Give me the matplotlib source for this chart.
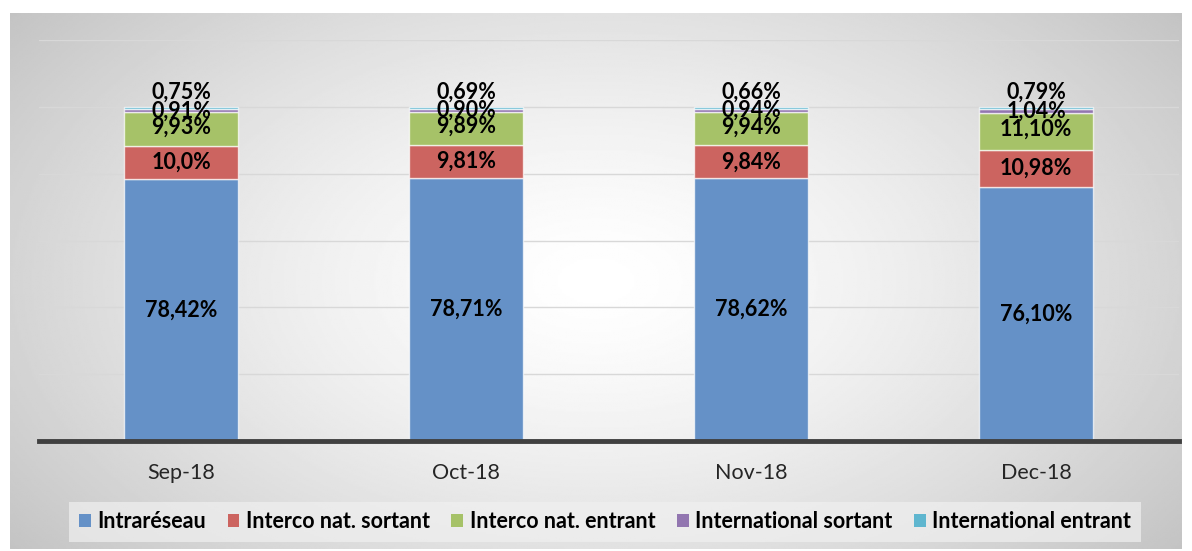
import numpy as np
import matplotlib
matplotlib.use("Agg")
import matplotlib.pyplot as plt
from matplotlib.patches import Patch

plt.rcParams['font.family'] = ['Lato', 'DejaVu Sans']

# data
months = ["Sep-18", "Oct-18", "Nov-18", "Dec-18"]
intra = [78.42, 78.71, 78.62, 76.10]
nat_sortant = [10.0, 9.81, 9.84, 10.98]
nat_entrant = [9.93, 9.89, 9.94, 11.10]
intl_sortant = [0.91, 0.90, 0.94, 1.04]
intl_entrant = [0.75, 0.69, 0.66, 0.79]
nat_sortant_dec = [1, 2, 2, 2]

series = [
    ("Intraréseau", intra, "#6591c7"),
    ("Interco nat. sortant", nat_sortant, "#cc6460"),
    ("Interco nat. entrant", nat_entrant, "#a6c268"),
    ("International sortant", intl_sortant, "#9276b0"),
    ("International entrant", intl_entrant, "#5fb6cf"),
]


def fmt(v, dec=2):
    return f"{v:.{dec}f}".replace(".", ",") + "%"


fig = plt.figure(figsize=(11.92, 5.51), dpi=100)
fig.patch.set_facecolor("white")

# radial gradient background
bg = fig.add_axes([10 / 1192, 1 - 549 / 551, 1172 / 1192, 536 / 551])
yy, xx = np.mgrid[-1:1:300j, -1:1:600j]
r = np.sqrt((xx / 1.0) ** 2 + (yy / 1.3) ** 2)
shade = 1.0 - 0.27 * (np.clip(r, 0, 1.4) / 1.4) ** 1.4
bg.imshow(shade, cmap="gray", vmin=0, vmax=1, aspect="auto", extent=[0, 1, 0, 1])
bg.axis("off")

ax = fig.add_axes([38.5 / 1192, 1 - 441 / 551, 1140 / 1192, 401 / 551])
ax.patch.set_alpha(0)
x = np.arange(len(months))
bottom = np.zeros(len(months))
for name, vals, color in series:
    ax.bar(x, vals, 0.4, bottom=bottom, color=color, edgecolor=(1, 1, 1, 0.7),
           linewidth=1, label=name, zorder=3)
    bottom += np.array(vals)

ax.set_ylim(0, 120)
ax.set_xlim(-0.5, len(months) - 0.5)
ax.set_yticks(np.arange(0, 121, 20))
ax.yaxis.grid(True, color="#d8d8d8", linewidth=1, zorder=0)
ax.tick_params(axis="y", left=False, labelleft=False)
ax.tick_params(axis="x", bottom=False, labelsize=15.5, labelcolor="#262626", pad=12)
ax.set_xticks(x)
ax.set_xticklabels(months)
for s in ax.spines.values():
    s.set_visible(False)
ax.axhline(0, color="#404040", linewidth=3.5, zorder=4, clip_on=False)

lab = dict(ha="center", va="center", fontsize=15.5, fontweight="bold", color="black", zorder=5)
for i in range(len(months)):
    b0 = intra[i]
    ax.text(i, b0 / 2, fmt(intra[i]), **lab)
    ax.text(i, b0 + nat_sortant[i] / 2, fmt(nat_sortant[i], nat_sortant_dec[i]), **lab)
    b1 = b0 + nat_sortant[i]
    ax.text(i, b1 + nat_entrant[i] / 2 + 0.6, fmt(nat_entrant[i]), **lab)
    b2 = b1 + nat_entrant[i]
    ax.text(i, b2 + intl_sortant[i] / 2, fmt(intl_sortant[i]), **lab)
    b3 = b2 + intl_sortant[i]
    ax.text(i, b3 + intl_entrant[i] + 4.5, fmt(intl_entrant[i]), **lab)

handles = [Patch(facecolor=c, edgecolor="none") for _, _, c in series]
leg = fig.legend(handles, [n for n, _, _ in series], loc="center",
                 bbox_to_anchor=(605 / 1192, 1 - 522 / 551), ncol=5,
                 frameon=True, fancybox=False, handlelength=0.55, handleheight=0.55,
                 handletextpad=0.3, columnspacing=1.0,
                 prop={"size": 15.5, "weight": "bold"}, borderpad=0.45)
leg.get_frame().set_facecolor("#f0f0f0")
leg.get_frame().set_alpha(0.7)
leg.get_frame().set_edgecolor("none")

fig.savefig("out.png", dpi=100)
